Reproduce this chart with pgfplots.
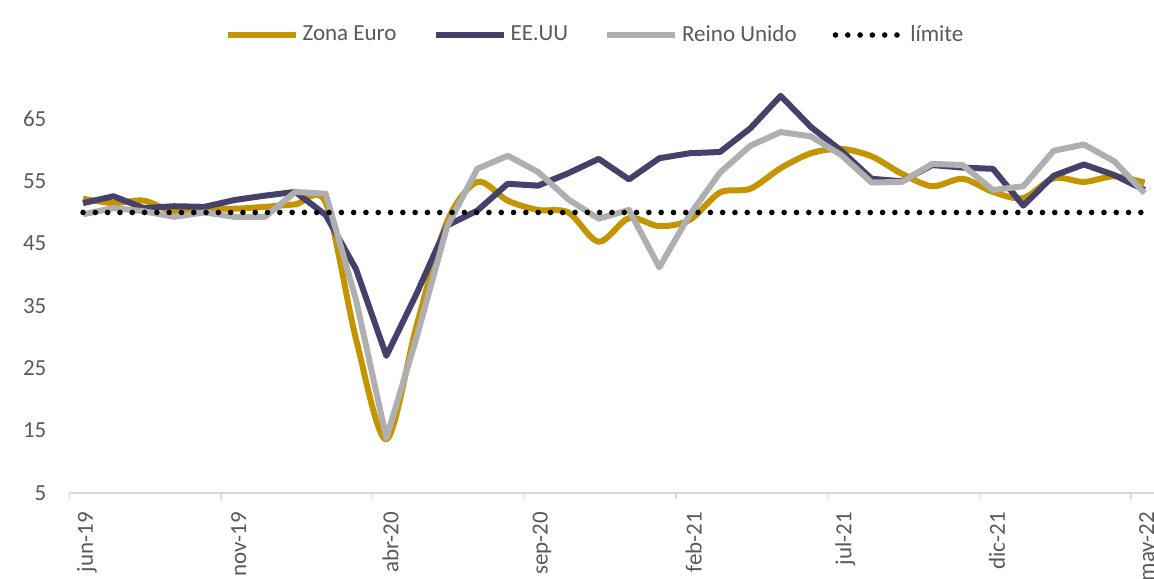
\documentclass[border=0pt]{standalone}
\usepackage{pgfplots}
\pgfplotsset{compat=1.18}
\usepackage{pgfplotstable}
\usepackage{fontspec}
\setmainfont{Carlito}
\definecolor{euro}{RGB}{196,149,0}
\definecolor{usa}{RGB}{70,65,106}
\definecolor{uk}{RGB}{175,175,175}
\definecolor{labelgrey}{RGB}{89,89,89}
\definecolor{axisgrey}{RGB}{217,217,217}

\pgfplotstableread{
i euro us uk
0 52.2 51.5 49.7
1 51.5 52.6 50.7
2 51.9 50.7 50.2
3 50.1 51.0 49.3
4 50.6 50.9 50.0
5 50.6 52.0 49.3
6 50.9 52.7 49.3
7 51.3 53.3 53.3
8 51.6 49.6 53.0
9 29.7 40.9 36.0
10 13.6 27.0 13.8
11 31.9 37.0 30.0
12 48.5 47.9 47.7
13 54.9 50.3 57.0
14 51.9 54.6 59.1
15 50.4 54.3 56.5
16 50.0 56.3 52.1
17 45.3 58.6 49.0
18 49.1 55.3 50.4
19 47.8 58.7 41.2
20 48.8 59.5 49.6
21 53.2 59.7 56.4
22 53.8 63.5 60.7
23 57.1 68.7 62.9
24 59.5 63.7 62.2
25 60.2 59.9 59.2
26 59.0 55.4 54.8
27 56.2 55.0 54.9
28 54.2 57.6 57.8
29 55.4 57.2 57.6
30 53.3 57.0 53.6
31 52.3 51.1 54.2
32 55.5 55.9 59.9
33 54.9 57.7 60.9
34 55.8 56.0 58.2
35 54.8 53.6 53.1
}\datatable

\pgfplotstableread{
i lim
0 50
35 50
}\limtable

\begin{document}
\begin{tikzpicture}
\begin{axis}[
  at={(0pt,0pt)}, anchor=south west,
  scale only axis,
  width=546.7pt, height=218.2pt,
  xmin=-0.45, xmax=35.6,
  ymin=5, ymax=75,
  axis x line*=bottom,
  axis y line*=left,
  x axis line style={-, draw=axisgrey, line width=0.75pt},
  y axis line style={draw=none},
  ytick={5,15,25,35,45,55,65},
  xtick={0,5,10,15,20,25,30,35},
  xticklabels={jun-19,nov-19,abr-20,sep-20,feb-21,jul-21,dic-21,may-22},
  major tick length=0pt,
  ytick style={draw=none},
  xtick style={draw=none},
  extra x ticks={-0.45,4.55,9.55,14.55,19.55,24.55,29.55,34.55},
  extra x tick labels={},
  extra x tick style={major tick length=3pt, tick align=outside, xtick style={draw=axisgrey, line width=0.75pt}},
  tick label style={font=\fontsize{11.5}{13}\selectfont, text=labelgrey},
  /pgf/number format/assume math mode=true,
  xticklabel style={xshift=2pt, rotate=90, anchor=east},
  xticklabel shift=6pt,
  yticklabel style={anchor=east},
  yticklabel shift=8pt,
  legend columns=4,
  legend style={draw=none, fill=none, at={(axis description cs:0.4816,1.0495)}, anchor=center,
    font=\fontsize{11.5}{13}\selectfont, text=labelgrey,
    /tikz/every even column/.append style={column sep=16pt},
    inner sep=0pt},
  legend image code/.code={\draw[#1] (0pt,0pt) -- (34pt,0pt);},
  clip=false,
]
\addplot[euro, line width=3pt, smooth, line join=round] table[x=i, y=euro] {\datatable};
\addlegendentry{Zona Euro}
\addplot[usa, line width=3pt, line join=round] table[x=i, y=us] {\datatable};
\addlegendentry{EE.UU}
\addplot[uk, line width=3pt, line join=round] table[x=i, y=uk] {\datatable};
\addlegendentry{Reino Unido}
\addplot[black, line width=2.8pt, line cap=round, dash pattern=on 0pt off 6.15pt] table[x=i, y=lim] {\limtable};
\addlegendentry{límite}
\end{axis}
\pgfresetboundingbox
\path[use as bounding box] (-34.7pt,-42.5pt) rectangle (542.3pt,246.5pt);
\end{tikzpicture}
\end{document}
